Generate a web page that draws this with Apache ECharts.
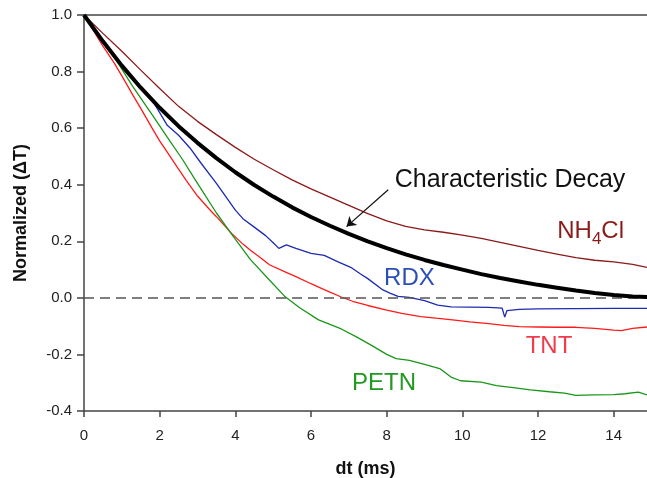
<!DOCTYPE html>
<html>
<head>
<meta charset="utf-8">
<script src="https://cdn.jsdelivr.net/npm/echarts@6/dist/echarts.min.js"></script>
<style>
html,body{margin:0;padding:0;background:#fff;}
#chart{width:647px;height:478px;}
</style>
</head>
<body>
<div id="chart"></div>
<script>
// ---- data ----
const xTicks = [0, 2, 4, 6, 8, 10, 12, 14];
const yTicks = [-0.4, -0.2, 0.0, 0.2, 0.4, 0.6, 0.8, 1.0];

const decay = [[0,1.0],[0.5,0.907],[1,0.821],[1.5,0.743],[2,0.672],[2.5,0.607],[3,0.548],[3.5,0.494],[4,0.444],[4.5,0.399],[5,0.358],[5.5,0.320],[6,0.286],[6.5,0.255],[7,0.226],[7.5,0.200],[8,0.176],[8.5,0.154],[9,0.134],[9.5,0.116],[10,0.100],[10.5,0.084],[11,0.070],[11.5,0.058],[12,0.046],[12.5,0.036],[13,0.026],[13.5,0.017],[14,0.010],[14.5,0.005],[14.88,0.003]];

const nh4cl = [[0,1.0],[0.5,0.935],[1,0.872],[1.5,0.805],[2,0.74],[2.5,0.677],[3,0.624],[3.5,0.577],[4,0.532],[4.5,0.49],[5,0.453],[5.5,0.417],[6,0.385],[6.5,0.356],[7,0.327],[7.5,0.298],[8,0.272],[8.5,0.253],[9,0.240],[9.5,0.232],[10,0.222],[10.5,0.210],[11,0.196],[11.5,0.182],[12,0.168],[12.5,0.155],[13,0.142],[13.5,0.133],[14,0.127],[14.5,0.118],[14.88,0.108]];

const rdx = [[0,1.0],[0.5,0.905],[1,0.82],[1.5,0.74],[1.8,0.70],[2,0.655],[2.2,0.61],[2.5,0.575],[2.8,0.53],[3.1,0.475],[3.5,0.405],[4.0,0.31],[4.2,0.28],[4.5,0.25],[4.8,0.22],[5.0,0.195],[5.15,0.175],[5.35,0.187],[5.6,0.175],[6.0,0.157],[6.35,0.150],[6.7,0.128],[7.05,0.108],[7.3,0.085],[7.5,0.068],[7.9,0.028],[8.1,0.016],[8.3,0.005],[8.6,0.002],[9.0,-0.010],[9.35,-0.026],[9.7,-0.032],[10.2,-0.033],[10.7,-0.034],[11.05,-0.036],[11.12,-0.068],[11.18,-0.045],[11.5,-0.041],[12,-0.039],[13,-0.038],[14,-0.037],[14.88,-0.037]];

const tnt = [[0,1.0],[0.5,0.89],[0.8,0.83],[1,0.785],[1.3,0.715],[1.5,0.67],[1.8,0.60],[2,0.555],[2.2,0.515],[2.5,0.455],[2.7,0.415],[3,0.36],[3.3,0.315],[3.5,0.287],[3.9,0.228],[4.2,0.19],[4.4,0.168],[4.7,0.138],[4.9,0.117],[5.3,0.093],[5.6,0.075],[6.0,0.05],[6.2,0.038],[6.5,0.02],[6.8,0.003],[7.1,-0.012],[7.5,-0.027],[8.0,-0.043],[8.4,-0.055],[8.9,-0.066],[9.3,-0.072],[9.8,-0.079],[10.2,-0.085],[10.7,-0.091],[11.1,-0.097],[11.5,-0.102],[12,-0.103],[12.5,-0.104],[13,-0.104],[13.5,-0.108],[14,-0.114],[14.2,-0.116],[14.5,-0.108],[14.88,-0.103]];

const petn = [[0,1.0],[0.5,0.905],[0.9,0.83],[1.3,0.745],[1.8,0.648],[2.2,0.568],[2.6,0.49],[3.0,0.405],[3.5,0.30],[3.9,0.225],[4.4,0.135],[4.9,0.063],[5.3,0.006],[5.7,-0.035],[6.2,-0.078],[6.8,-0.11],[7.2,-0.138],[7.6,-0.168],[8.0,-0.2],[8.25,-0.215],[8.6,-0.221],[9.0,-0.235],[9.4,-0.25],[9.7,-0.28],[9.95,-0.293],[10.5,-0.298],[10.9,-0.31],[11.4,-0.318],[11.8,-0.325],[12.3,-0.332],[12.7,-0.337],[13.0,-0.345],[13.5,-0.343],[14.0,-0.342],[14.3,-0.339],[14.65,-0.333],[14.88,-0.343]];

// label anchor positions (data coords)
const labelNH4Cl = [13.39, 0.235];
const labelRDX = [8.6, 0.07];
const labelTNT = [12.29, -0.17];
const labelPETN = [7.93, -0.302];
const labelDecay = [11.26, 0.417];
const arrowFrom = [8.04, 0.382];
const arrowTo = [6.94, 0.252];

const FONT = '"Liberation Sans", Arial, sans-serif';

function line(name, data, color, width, z) {
  return {
    name, type: 'line', data, showSymbol: false, smooth: false, z: z || 2,
    lineStyle: { color, width }, itemStyle: { color }, animation: false
  };
}
function textMark(coord, text, color, rich, size) {
  return {
    coord, symbolSize: 0,
    label: { show: true, position: 'inside', formatter: text, color, fontFamily: FONT, fontSize: size || 24, rich: rich || {} }
  };
}

const chart = echarts.init(document.getElementById('chart'), null, { renderer: 'canvas' });
chart.setOption({
  backgroundColor: '#ffffff',
  animation: false,
  grid: { left: 84, right: 0, top: 15, bottom: 67, containLabel: false, outerBoundsMode: 'none' },
  xAxis: [{
    type: 'value', min: 0, max: 14.88, interval: 2,
    name: 'dt (ms)', nameLocation: 'middle', nameGap: 49,
    nameTextStyle: { fontFamily: FONT, fontWeight: 'bold', fontSize: 18, color: '#111' },
    axisLine: { show: true, onZero: false, lineStyle: { color: '#444', width: 1.5 } },
    axisTick: { show: true, length: 6, lineStyle: { color: '#444', width: 1.5 },
      customValues: xTicks },
    axisLabel: { fontFamily: FONT, fontSize: 15, color: '#222', margin: 17,
      customValues: xTicks, formatter: v => String(v) },
    splitLine: { show: false }
  }, {
    type: 'value', position: 'top', min: 0, max: 14.88,
    axisLine: { show: true, onZero: false, lineStyle: { color: '#444', width: 1.5 } },
    axisTick: { show: false }, axisLabel: { show: false }, splitLine: { show: false }
  }],
  yAxis: {
    type: 'value', min: -0.4, max: 1.0, interval: 0.2,
    name: 'Normalized (\u0394T)', nameLocation: 'middle', nameGap: 54,
    nameTextStyle: { fontFamily: FONT, fontWeight: 'bold', fontSize: 18, color: '#111' },
    axisLine: { show: true, onZero: false, lineStyle: { color: '#444', width: 1.5 } },
    axisTick: { show: true, inside: false, length: 7, lineStyle: { color: '#444', width: 1.5 } },
    axisLabel: { fontFamily: FONT, fontSize: 15, color: '#222', margin: 12,
      formatter: v => (Math.abs(v) < 1e-9 ? 0 : v).toFixed(1) },
    splitLine: { show: false }
  },
  series: [
    line('NH4Cl', nh4cl, '#8b1a1a', 1.3),
    line('TNT', tnt, '#ff1a1a', 1.3),
    line('PETN', petn, '#1a961a', 1.3),
    Object.assign(line('RDX', rdx, '#1c2bb0', 1.3), {
      markLine: {
        silent: true, symbol: ['none', 'none'],
        lineStyle: { color: '#555', width: 1.7, type: [10, 6] },
        label: { show: false },
        data: [{ yAxis: 0 }]
      }
    }),
    Object.assign(line('Characteristic Decay', decay, '#000000', 4, 5), {
      markLine: {
        silent: true, symbol: ['none', 'arrow'], symbolSize: 9,
        lineStyle: { color: '#111', width: 1.2, type: 'solid' },
        label: { show: false },
        data: [[{ coord: arrowFrom }, { coord: arrowTo }]]
      },
      markPoint: {
        silent: true, symbol: 'circle',
        data: [
          textMark(labelDecay, 'Characteristic Decay', '#111', {}, 25),
          textMark(labelNH4Cl, 'NH{s|4}Cl', '#8b1a1a', { s: { fontSize: 17, color: '#8b1a1a', fontFamily: FONT, padding: [16, 0, 0, 0] } }),
          textMark(labelRDX, 'RDX', '#2a4fb8'),
          textMark(labelTNT, 'TNT', '#ef3b4a'),
          textMark(labelPETN, 'PETN', '#229922')
        ]
      }
    })
  ]
});
</script>
</body>
</html>
